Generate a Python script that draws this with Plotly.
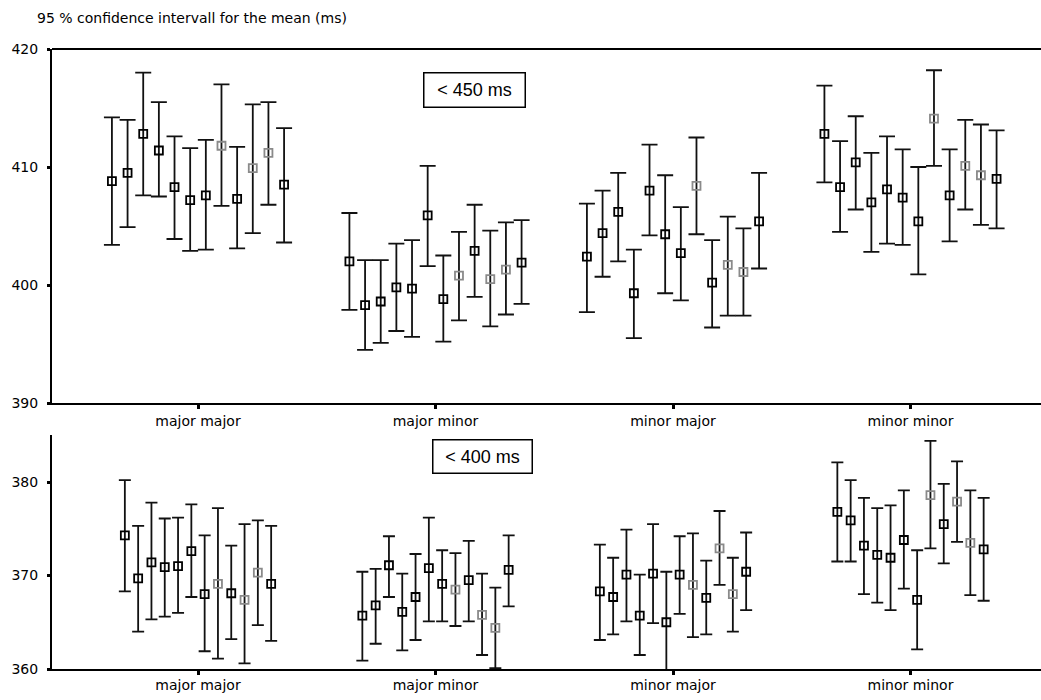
import plotly.graph_objects as go

W, H = 1041, 700

categories = ["major major", "major minor", "minor major", "minor minor"]
n_series = 12
grey_series = [8, 10, 11]

top_mean_MM = [408.8, 409.5, 412.8, 411.4, 408.3, 407.2, 407.6, 411.8, 407.3, 409.9, 411.2, 408.5]
top_lo_MM   = [403.4, 404.9, 407.6, 407.5, 403.9, 402.9, 403.0, 406.7, 403.1, 404.4, 406.8, 403.6]
top_hi_MM   = [414.2, 414.0, 418.0, 415.5, 412.6, 411.6, 412.3, 417.0, 411.7, 415.3, 415.5, 413.3]

top_mean_Mm = [402.0, 398.3, 398.6, 399.8, 399.7, 405.9, 398.8, 400.8, 402.9, 400.5, 401.3, 401.9]
top_lo_Mm   = [397.9, 394.5, 395.1, 396.1, 395.6, 401.6, 395.2, 397.0, 399.0, 396.5, 397.5, 398.4]
top_hi_Mm   = [406.1, 402.1, 402.1, 403.5, 403.8, 410.1, 402.5, 404.5, 406.8, 404.6, 405.3, 405.5]

top_mean_mM = [402.4, 404.4, 406.2, 399.3, 408.0, 404.3, 402.7, 408.4, 400.2, 401.7, 401.1, 405.4]
top_lo_mM   = [397.7, 400.7, 402.0, 395.5, 404.2, 399.3, 398.7, 404.3, 396.4, 397.4, 397.4, 401.4]
top_hi_mM   = [406.9, 408.0, 409.5, 403.0, 411.9, 409.3, 406.6, 412.5, 403.8, 405.8, 404.8, 409.5]

top_mean_mm = [412.8, 408.3, 410.4, 407.0, 408.1, 407.4, 405.4, 414.1, 407.6, 410.1, 409.3, 409.0]
top_lo_mm   = [408.7, 404.5, 406.4, 402.8, 403.5, 403.4, 400.9, 410.1, 403.7, 406.4, 405.1, 404.8]
top_hi_mm   = [416.9, 412.2, 414.3, 411.2, 412.6, 411.5, 410.0, 418.2, 411.5, 414.0, 413.6, 413.1]

bot_mean_MM = [374.3, 369.7, 371.4, 370.9, 371.0, 372.6, 368.0, 369.1, 368.1, 367.4, 370.3, 369.1]
bot_lo_MM   = [368.3, 364.0, 365.3, 365.6, 366.0, 367.7, 361.9, 361.1, 363.2, 360.6, 364.7, 363.0]
bot_hi_MM   = [380.2, 375.3, 377.8, 376.1, 376.2, 377.6, 374.3, 377.2, 373.2, 375.5, 375.9, 375.3]

bot_mean_Mm = [365.7, 366.8, 371.1, 366.1, 367.7, 370.8, 369.1, 368.5, 369.5, 365.8, 364.4, 370.6]
bot_lo_Mm   = [360.9, 362.7, 367.7, 362.0, 363.1, 365.1, 365.1, 364.6, 365.1, 361.5, 360.1, 366.7]
bot_hi_Mm   = [370.4, 370.7, 374.2, 370.2, 372.3, 376.2, 372.7, 372.4, 373.7, 370.2, 368.7, 374.3]

bot_mean_mM = [368.3, 367.7, 370.1, 365.7, 370.2, 365.0, 370.1, 369.0, 367.6, 372.9, 368.0, 370.4]
bot_lo_mM   = [363.1, 363.7, 365.1, 361.5, 364.9, 359.6, 365.9, 363.4, 363.7, 369.0, 364.0, 366.3]
bot_hi_mM   = [373.3, 371.9, 374.9, 370.1, 375.5, 370.4, 374.2, 374.5, 371.6, 376.9, 371.9, 374.6]

bot_mean_mm = [376.8, 375.9, 373.2, 372.2, 371.9, 373.8, 367.4, 378.6, 375.5, 377.9, 373.5, 372.8]
bot_lo_mm   = [371.5, 371.5, 368.0, 367.1, 366.3, 368.6, 362.1, 372.9, 371.3, 373.6, 367.9, 367.3]
bot_hi_mm   = [382.1, 380.2, 378.3, 377.2, 377.5, 379.1, 372.7, 384.4, 379.8, 382.2, 379.1, 378.3]

top_y_ticks = [390, 400, 410, 420]
bot_y_ticks = [360, 370, 380]
top_label = "< 450 ms"
bot_label = "< 400 ms"
title_text = "95 % confidence intervall for the mean (ms)"

panels = [
    dict(means=[top_mean_MM, top_mean_Mm, top_mean_mM, top_mean_mm],
         los=[top_lo_MM, top_lo_Mm, top_lo_mM, top_lo_mm],
         his=[top_hi_MM, top_hi_Mm, top_hi_mM, top_hi_mm],
         xa="x", ya="y", dodge=0.0659, cap=8),
    dict(means=[bot_mean_MM, bot_mean_Mm, bot_mean_mM, bot_mean_mm],
         los=[bot_lo_MM, bot_lo_Mm, bot_lo_mM, bot_lo_mm],
         his=[bot_hi_MM, bot_hi_Mm, bot_hi_mM, bot_hi_mm],
         xa="x2", ya="y2", dodge=0.056, cap=6),
]

fig = go.Figure()
for p in panels:
    for s in range(n_series):
        xs, ys, up, dn = [], [], [], []
        for c in range(len(categories)):
            m = p["means"][c][s]
            xs.append(c + (s - (n_series - 1) / 2) * p["dodge"])
            ys.append(m)
            up.append(p["his"][c][s] - m)
            dn.append(m - p["los"][c][s])
        col = "#8a8a8a" if (s + 1) in grey_series else "#000000"
        fig.add_trace(go.Scatter(
            x=xs, y=ys, mode="markers", xaxis=p["xa"], yaxis=p["ya"],
            marker=dict(symbol="square-open", size=8, color=col, line=dict(width=1.8, color=col)),
            error_y=dict(type="data", symmetric=False, array=up, arrayminus=dn,
                         color="#111111", thickness=1.8, width=p["cap"]),
            cliponaxis=False, showlegend=False, hoverinfo="skip",
        ))


def px(x):
    return x / W


def py(y):
    return 1 - y / H


x_left = -(198 - 52) / 237.5
xr = [x_left, x_left + (W - 52) / 237.5]
tfont = dict(family="DejaVu Sans, sans-serif", size=14, color="#000")

xcommon = dict(domain=[px(52), 1], range=xr, tickmode="array",
               tickvals=list(range(len(categories))),
               ticktext=categories, showline=True, linecolor="#000", linewidth=2, mirror=False,
               ticks="outside", ticklen=4, tickwidth=3, tickcolor="#000",
               showgrid=False, zeroline=False, tickfont=tfont, automargin=False, fixedrange=True)
ycommon = dict(showline=True, linecolor="#000", linewidth=2, mirror=False, ticks="outside", ticklen=3,
               tickwidth=3, tickcolor="#000", showgrid=False, zeroline=False,
               tickfont=dict(family="DejaVu Sans, sans-serif", size=14, color="#000"),
               automargin=False, ticklabelstandoff=6, fixedrange=True)

fig.update_layout(
    width=W, height=H, margin=dict(l=0, r=0, t=0, b=0),
    paper_bgcolor="white", plot_bgcolor="white", template="none",
    font=tfont, hovermode=False, dragmode=False,
    xaxis=dict(anchor="y", **xcommon),
    yaxis=dict(anchor="x", domain=[py(403), py(49)], range=[390, 420],
               tickmode="array", tickvals=top_y_ticks, **ycommon),
    xaxis2=dict(anchor="y2", ticklabelstandoff=-2, **xcommon),
    yaxis2=dict(anchor="x2", domain=[py(669), py(435)], range=[360, 385.03],
                tickmode="array", tickvals=bot_y_ticks, **ycommon),
    shapes=[dict(type="line", xref="paper", yref="paper", x0=px(52), x1=1, y0=py(49), y1=py(49),
                 line=dict(color="#000", width=2))],
    annotations=[
        dict(text=title_text, xref="paper", yref="paper", x=px(35), y=py(18),
             xanchor="left", yanchor="middle", showarrow=False,
             font=dict(family="DejaVu Sans, sans-serif", size=14, color="#000")),
        dict(text=top_label, xref="paper", yref="paper", x=px(474), y=py(90),
             xanchor="center", yanchor="middle", showarrow=False, width=98, height=31,
             bordercolor="#000", borderwidth=1.5, borderpad=1, bgcolor="white",
             font=dict(family="Liberation Sans, Arial, sans-serif", size=18, color="#000")),
        dict(text=bot_label, xref="paper", yref="paper", x=px(482), y=py(456),
             xanchor="center", yanchor="middle", showarrow=False, width=96, height=30,
             bordercolor="#000", borderwidth=1.5, borderpad=1, bgcolor="white",
             font=dict(family="Liberation Sans, Arial, sans-serif", size=18, color="#000")),
    ],
)

fig.write_html(
    "out.html",
    config={"displayModeBar": False, "staticPlot": True},
    post_script="document.body.style.margin='0';document.body.style.overflow='hidden';",
)
